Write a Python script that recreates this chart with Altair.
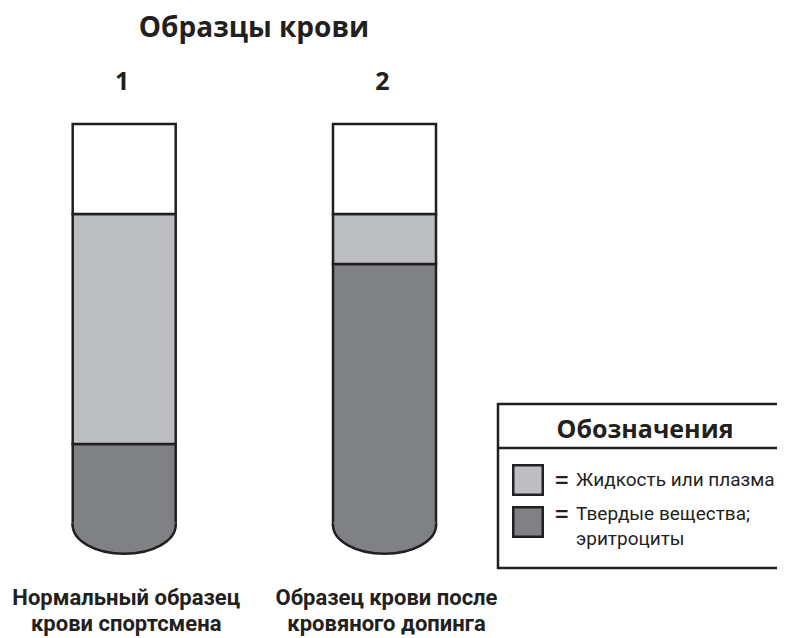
import altair as alt
import pandas as pd

# ---------------- data ----------------
samples = ["1", "2"]
captions = ["Нормальный образец\nкрови спортсмена",
            "Образец крови после\nкровяного допинга"]
components = ["solids", "plasma", "air"]
component_colors = ["#808185", "#BDBEC1", "#FFFFFF"]
solids = [81, 261]      # column height of solid matter (red cells)
plasma = [230, 50]      # column height of plasma
air = [90, 90]          # empty headroom of the tube
legend_components = ["plasma", "solids"]
legend_labels = ["Жидкость или плазма", "Твердые вещества;\nэритроциты"]
title_text = "Образцы крови"
legend_title = "Обозначения"

INK = "#231F20"
SANS_BOLD = "Open Sans, Noto Sans, DejaVu Sans, sans-serif"
COND = "Roboto, Liberation Sans, sans-serif"

# ---------------- tables ----------------
tube_rows = []
for i, s in enumerate(samples):
    for j, (c, vals) in enumerate(zip(components, [solids, plasma, air])):
        tube_rows.append({"sample": s, "component": c, "amount": vals[i], "ord": j})
tubes = pd.DataFrame(tube_rows)
bottoms = pd.DataFrame({"sample": samples, "component": components[0]})
labels_df = pd.DataFrame({"sample": samples, "caption": captions})
legend_df = pd.DataFrame({
    "component": legend_components,
    "label": legend_labels,
    "lx": [520, 520],
    "ly": [472 + 42 * i for i in range(len(legend_components))],
})
legend_df["ty"] = [ly + 6 - 8.5 * (lab.count("\n"))
                   for ly, lab in zip(legend_df["ly"], legend_df["label"])]

# ---------------- scales ----------------
W, H = 769, 630
xs = alt.Scale(type="point", domain=samples, range=[116.2, 376.5], padding=0)
ys = alt.Scale(domain=[517 - H, 517], nice=False, zero=False)
cs = alt.Scale(domain=components, range=component_colors)

X = alt.X("sample:N", scale=xs, axis=None)
COLOR = alt.Color("component:N", scale=cs, legend=None)

# rounded tube bottom (semi-ellipse), in symbol units
b = 0.558
k = 0.5523
FILL_PATH = (f"M -1 -0.05 L 1 -0.05 L 1 0 C 1 {k*b:.4f} {k:.4f} {b} 0 {b} "
             f"C {-k:.4f} {b} -1 {k*b:.4f} -1 0 Z")
LINE_PATH = (f"M 1 -0.03 L 1 0 C 1 {k*b:.4f} {k:.4f} {b} 0 {b} "
             f"C {-k:.4f} {b} -1 {k*b:.4f} -1 0 L -1 -0.03")
SYM_SIZE = 103 ** 2

bars = alt.Chart(tubes).mark_bar(size=103, stroke=INK, strokeWidth=2.5).encode(
    x=X,
    y=alt.Y("amount:Q", stack="zero", scale=ys, axis=None),
    color=COLOR,
    order=alt.Order("ord:Q"),
)

bottom_fill = alt.Chart(bottoms).mark_point(
    shape=FILL_PATH, size=SYM_SIZE, filled=True, opacity=1, strokeWidth=0
).encode(x=X, y=alt.YDatum(datum=0, scale=ys, axis=None), color=COLOR)

bottom_line = alt.Chart(bottoms).mark_point(
    shape=LINE_PATH, size=SYM_SIZE, filled=False, opacity=1, stroke=INK, strokeWidth=2.5
).encode(x=X, y=alt.YDatum(datum=0, scale=ys, axis=None))

numbers = alt.Chart(labels_df).mark_text(
    font=SANS_BOLD, fontSize=25, fontWeight="bold", color=INK, baseline="alphabetic",
    dx=-2
).encode(x=X, y=alt.value(82), text="sample:N")

caption_text = alt.Chart(labels_df).mark_text(
    font=COND, fontSize=22, fontWeight="bold", color=INK, baseline="alphabetic",
    lineBreak="\n", lineHeight=26, dx=2
).encode(x=X, y=alt.value(597), text="caption:N")

title = alt.Chart(pd.DataFrame({"t": [title_text]})).mark_text(
    font=SANS_BOLD, fontSize=28, fontWeight="bold", color=INK, baseline="alphabetic"
).encode(x=alt.value(246), y=alt.value(29), text="t:N")

legend_box = alt.Chart(pd.DataFrame({"t": [legend_title]})).mark_rect(
    fill="white", stroke=INK, strokeWidth=2.5
).encode(x=alt.value(490), x2=alt.value(800), y=alt.value(396), y2=alt.value(560))

legend_sep = alt.Chart(pd.DataFrame({"t": [legend_title]})).mark_rule(
    stroke=INK, strokeWidth=2.5
).encode(x=alt.value(490), x2=alt.value(800), y=alt.value(440))

legend_head = alt.Chart(pd.DataFrame({"t": [legend_title]})).mark_text(
    font=SANS_BOLD, fontSize=25, fontWeight="bold", color=INK, baseline="alphabetic"
).encode(x=alt.value(637), y=alt.value(430), text="t:N")

swatches = alt.Chart(legend_df).mark_square(
    size=870, filled=True, opacity=1, stroke=INK, strokeWidth=2.5
).encode(
    x=alt.X("lx:Q", scale=None, axis=None),
    y=alt.Y("ly:Q", scale=None, axis=None),
    color=COLOR,
)

equals = alt.Chart(legend_df).mark_text(
    font=COND, fontSize=28, color=INK, baseline="alphabetic", align="left", dy=3
).encode(
    x=alt.value(546),
    y=alt.Y("ty:Q", scale=None, axis=None),
    text=alt.value("="),
)

legend_text = alt.Chart(legend_df).mark_text(
    font=COND, fontSize=19, color=INK, baseline="alphabetic", align="left",
    lineBreak="\n", lineHeight=25.5
).encode(
    x=alt.value(568),
    y=alt.Y("ty:Q", scale=None, axis=None),
    text="label:N",
)

chart = alt.layer(
    bars, bottom_fill, bottom_line, numbers, caption_text, title,
    legend_box, legend_sep, legend_head, swatches, equals, legend_text
).properties(
    width=W, height=H, padding=0, autosize="none"
).configure_view(stroke=None)

chart.save("out.html", embed_options={"renderer": "svg", "actions": False})
